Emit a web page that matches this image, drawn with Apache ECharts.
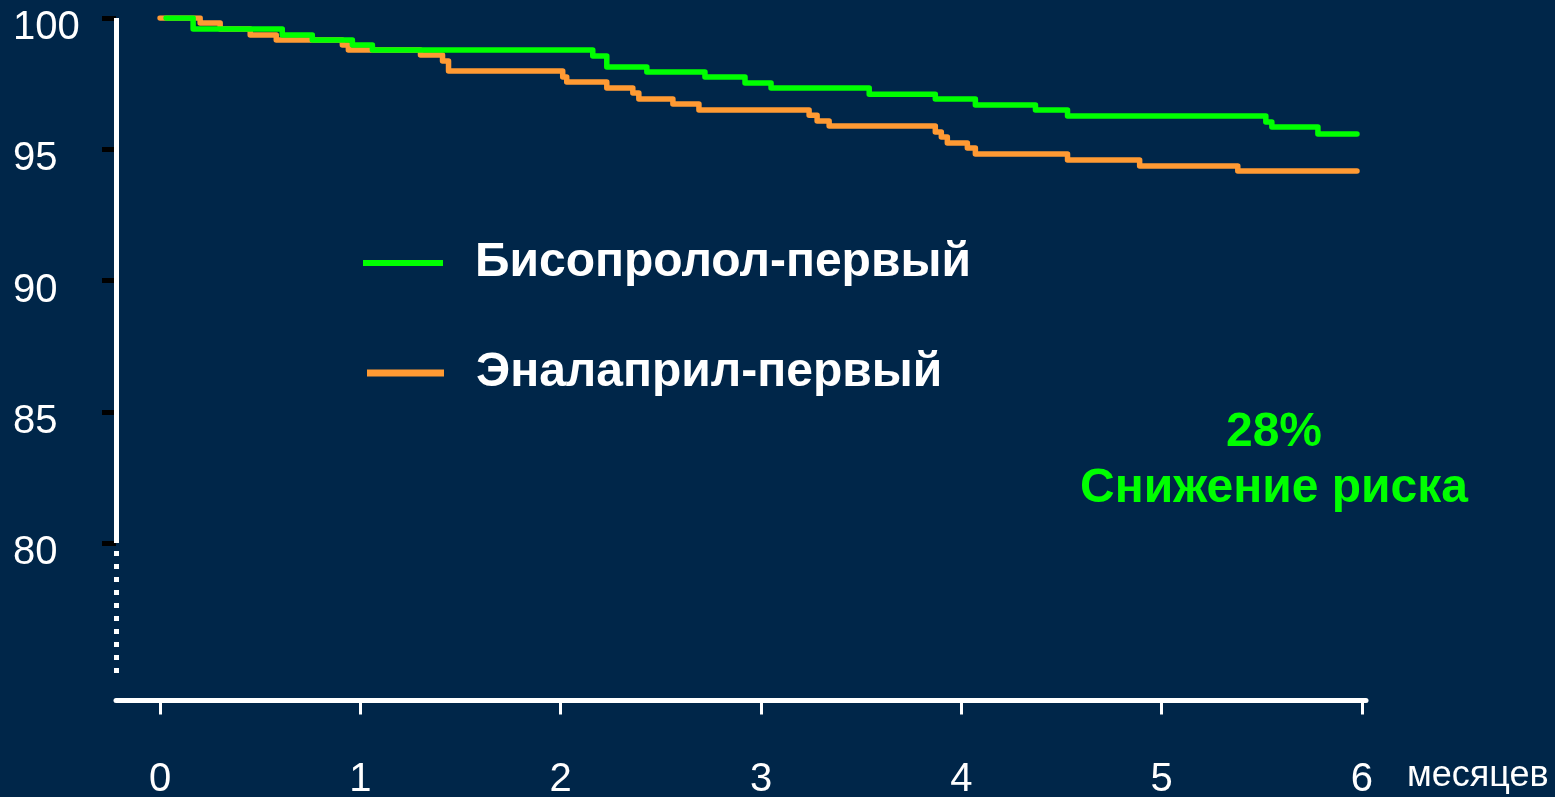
<!DOCTYPE html>
<html>
<head>
<meta charset="utf-8">
<title>Бисопролол-первый vs Эналаприл-первый</title>
<script src="https://cdn.jsdelivr.net/npm/echarts@6/dist/echarts.min.js"></script>
<style>
  html, body { margin: 0; padding: 0; background: #002649; }
  #chart { width: 1555px; height: 797px; }
</style>
</head>
<body>
<div id="chart"></div>
<script>
// Kaplan–Meier survival (%) by month, stepwise
const BISO_NAME = 'Бисопролол-первый';
const ENAL_NAME = 'Эналаприл-первый';

const bisoMonths = [0.03, 0.165, 0.61, 0.76, 0.96, 1.06, 2.16, 2.23, 2.43, 2.72, 2.92, 3.05, 3.54, 3.87, 4.07, 4.37, 4.53, 5.52, 5.55, 5.78, 5.975];
const bisoSurvival = [100, 99.58, 99.35, 99.16, 98.97, 98.78, 98.55, 98.13, 97.94, 97.75, 97.52, 97.33, 97.10, 96.91, 96.69, 96.50, 96.27, 96.04, 95.85, 95.58, 95.58];

const enalMonths = [0, 0.20, 0.30, 0.45, 0.58, 0.91, 0.94, 1.30, 1.41, 1.44, 2.01, 2.03, 2.23, 2.36, 2.39, 2.56, 2.69, 3.24, 3.28, 3.34, 3.87, 3.90, 3.93, 4.03, 4.07, 4.53, 4.89, 5.38, 5.975];
const enalSurvival = [100, 99.81, 99.58, 99.35, 99.16, 98.97, 98.78, 98.59, 98.36, 97.98, 97.75, 97.56, 97.33, 97.14, 96.91, 96.72, 96.50, 96.30, 96.08, 95.89, 95.66, 95.47, 95.24, 95.05, 94.82, 94.59, 94.36, 94.17, 94.17];

const monthTicks = [0, 1, 2, 3, 4, 5, 6];
const percentTicks = [80, 85, 90, 95, 100];
const monthUnit = 'месяцев';
const riskText = ['28%', 'Снижение риска'];

// axis extents; the y axis is solid from 80 to 100 and dotted below 80
const X_MIN = -0.22, X_MAX = 6.02;
const Y_MIN = 74, Y_MAX = 100;
const Y_SOLID = [80, 100];
const Y_DOTTED = [75.05, 80];

const GREEN = '#00ff00';
const ORANGE = '#ff9a33';
const WHITE = '#ffffff';
const FONT = '"Liberation Sans", Arial, Helvetica, sans-serif';

const pairs = (xs, ys) => xs.map((x, i) => [x, ys[i]]);

const chart = echarts.init(document.getElementById('chart'), null, { renderer: 'canvas' });

chart.setOption({
  backgroundColor: '#002649',
  animation: false,
  textStyle: { fontFamily: FONT },
  grid: {
    left: 116, right: 189, top: 18, bottom: 96.5,
    containLabel: false, outerBoundsMode: 'none'
  },
  xAxis: {
    type: 'value', min: X_MIN, max: X_MAX,
    name: monthUnit,
    nameLocation: 'end',
    nameGap: 41,
    nameTextStyle: {
      color: WHITE, fontSize: 36, fontFamily: FONT,
      align: 'left', verticalAlign: 'top', lineHeight: 36,
      padding: [58, 0, 0, 0]
    },
    axisLine: { show: true, onZero: false, lineStyle: { color: WHITE, width: 5 } },
    axisTick: {
      show: true, customValues: monthTicks, length: 14,
      lineStyle: { color: WHITE, width: 3 }
    },
    axisLabel: {
      show: true, customValues: monthTicks,
      color: WHITE, fontSize: 40, fontFamily: FONT, lineHeight: 40,
      margin: 59
    },
    splitLine: { show: false }
  },
  yAxis: {
    type: 'value', min: Y_MIN, max: Y_MAX,
    axisLine: { show: false, onZero: false },
    axisTick: {
      show: true, customValues: percentTicks, length: 14,
      lineStyle: { color: '#000000', width: 5 }
    },
    axisLabel: {
      show: true, customValues: percentTicks,
      color: WHITE, fontSize: 40, fontFamily: FONT, lineHeight: 20,
      align: 'left', verticalAlign: 'top', margin: 103
    },
    splitLine: { show: false }
  },
  legend: [
    {
      data: [BISO_NAME], left: 363, top: 239, orient: 'vertical', padding: 0,
      icon: 'rect', itemWidth: 80, itemHeight: 6, selectedMode: false,
      textStyle: {
        color: WHITE, fontSize: 48, fontWeight: 'bold', fontFamily: FONT,
        lineHeight: 48, padding: [0, 0, 0, 27]
      }
    },
    {
      data: [ENAL_NAME], left: 367, top: 349, orient: 'vertical', padding: 0,
      icon: 'rect', itemWidth: 77, itemHeight: 7, selectedMode: false,
      textStyle: {
        color: WHITE, fontSize: 48, fontWeight: 'bold', fontFamily: FONT,
        lineHeight: 48, padding: [0, 0, 0, 27]
      }
    }
  ],
  graphic: [
    {
      type: 'text', x: 1274, y: 405, silent: true,
      style: {
        text: riskText.join('\n'),
        fill: GREEN, font: 'bold 48px ' + FONT,
        align: 'center', verticalAlign: 'top', lineHeight: 56
      }
    }
  ],
  series: [
    {
      name: ENAL_NAME, type: 'line', step: 'end',
      data: pairs(enalMonths, enalSurvival),
      showSymbol: false, symbol: 'none', z: 2,
      lineStyle: { color: ORANGE, width: 5.5, join: 'round', cap: 'round' },
      itemStyle: { color: ORANGE },
      markLine: {
        silent: true, symbol: 'none', label: { show: false },
        emphasis: { disabled: true },
        data: [
          [
            { coord: [X_MIN, Y_SOLID[0]], lineStyle: { color: WHITE, width: 5, type: 'solid' } },
            { coord: [X_MIN, Y_SOLID[1]] }
          ],
          [
            { coord: [X_MIN, Y_DOTTED[0]], lineStyle: { color: WHITE, width: 5, type: [5, 8] } },
            { coord: [X_MIN, Y_DOTTED[1]] }
          ]
        ]
      }
    },
    {
      name: BISO_NAME, type: 'line', step: 'end',
      data: pairs(bisoMonths, bisoSurvival),
      showSymbol: false, symbol: 'none', z: 3,
      lineStyle: { color: GREEN, width: 5.5, join: 'round', cap: 'round' },
      itemStyle: { color: GREEN }
    }
  ]
});
</script>
</body>
</html>
